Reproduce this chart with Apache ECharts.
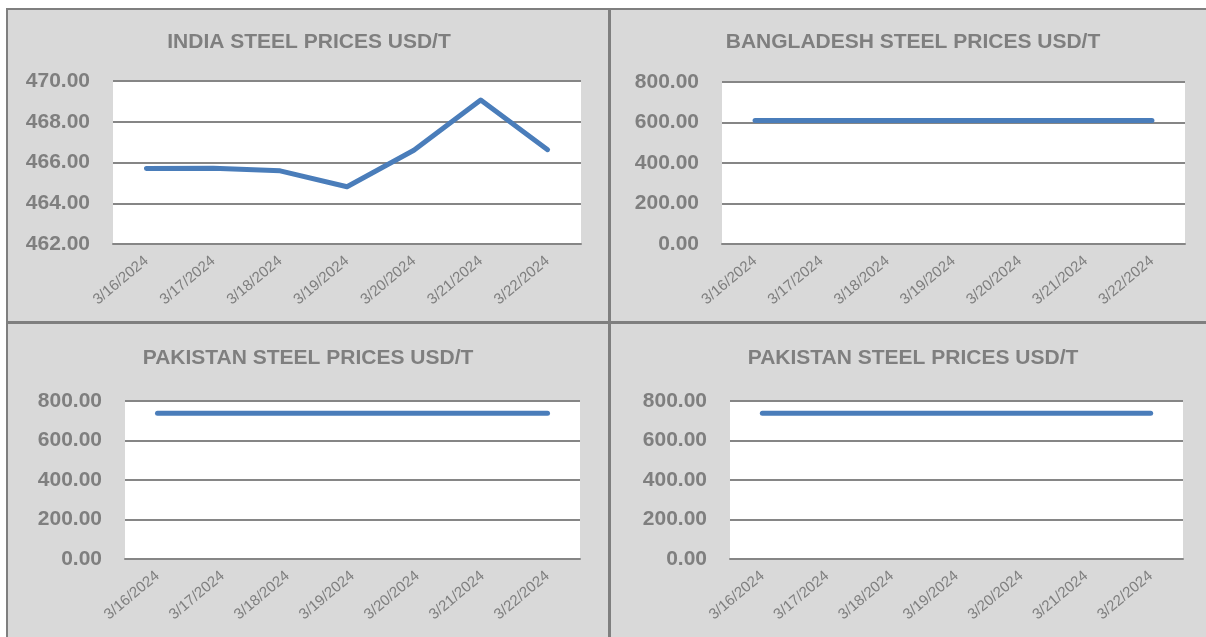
<!DOCTYPE html>
<html>
<head>
<meta charset="utf-8">
<script src="https://cdn.jsdelivr.net/npm/echarts@6/dist/echarts.min.js"></script>
<style>
html,body{margin:0;padding:0;background:#fff;}
#chart{width:1206px;height:637px;}
</style>
</head>
<body>
<div id="chart"></div>
<script>
const dates = ["3/16/2024","3/17/2024","3/18/2024","3/19/2024","3/20/2024","3/21/2024","3/22/2024"];
const titles = ["INDIA STEEL PRICES USD/T","BANGLADESH STEEL PRICES USD/T","PAKISTAN STEEL PRICES USD/T","PAKISTAN STEEL PRICES USD/T"];
const india = [465.71, 465.72, 465.59, 464.81, 466.60, 469.07, 466.63];
const bangladesh = [610, 610, 610, 610, 610, 610, 610];
const pakistan1 = [738, 738, 738, 738, 738, 738, 738];
const pakistan2 = [738, 738, 738, 738, 738, 738, 738];
const yRanges = [[462, 470, 2], [0, 800, 200], [0, 800, 200], [0, 800, 200]];
const seriesData = [india, bangladesh, pakistan1, pakistan2];

const grids = [
  {left: 113, top: 81, width: 468, height: 163},
  {left: 722, top: 82, width: 463, height: 162},
  {left: 125, top: 401, width: 455, height: 158},
  {left: 730, top: 401, width: 453, height: 158}
];
const titlePos = [[309, 32], [913, 32], [308, 348], [913, 348]];

const gray = '#7f7f7f';
const gridColor = '#868686';

const option = {
  backgroundColor: '#d9d9d9',
  animation: false,
  title: titles.map((t, i) => ({
    text: t,
    left: titlePos[i][0],
    top: titlePos[i][1],
    textAlign: 'center',
    padding: 0,
    textStyle: {fontFamily: 'Liberation Sans, Arial, sans-serif', fontSize: 21, fontWeight: 'bold', color: gray}
  })),
  grid: grids.map(g => Object.assign({show: true, backgroundColor: '#ffffff', borderWidth: 0, containLabel: false}, g)),
  xAxis: grids.map((g, i) => ({
    type: 'category',
    gridIndex: i,
    data: dates,
    boundaryGap: true,
    axisLine: {show: true, lineStyle: {color: gridColor, width: 2}},
    axisTick: {show: false},
    axisLabel: {rotate: 40, margin: 15, fontSize: 15, color: gray, fontFamily: 'Liberation Sans, Arial, sans-serif', interval: 0}
  })),
  yAxis: grids.map((g, i) => ({
    type: 'value',
    gridIndex: i,
    min: yRanges[i][0],
    max: yRanges[i][1],
    interval: yRanges[i][2],
    axisLine: {show: false},
    axisTick: {show: false},
    splitLine: {show: true, lineStyle: {color: gridColor, width: 2}},
    axisLabel: {margin: 23, fontSize: 21, fontWeight: 'bold', color: gray, fontFamily: 'Liberation Sans, Arial, sans-serif',
      formatter: v => v.toFixed(2)}
  })),
  series: seriesData.map((d, i) => ({
    type: 'line',
    xAxisIndex: i,
    yAxisIndex: i,
    data: d,
    symbol: 'none',
    lineStyle: {color: '#4a7dba', width: 5, cap: 'round', join: 'round'},
    z: 5
  })),
  graphic: [
    {type: 'rect', shape: {x: 0, y: 0, width: 1206, height: 8}, style: {fill: '#ffffff'}, z: 50},
    {type: 'rect', shape: {x: 0, y: 0, width: 6, height: 637}, style: {fill: '#ffffff'}, z: 50},
    {type: 'rect', shape: {x: 6, y: 8, width: 1200, height: 2}, style: {fill: gray}, z: 51},
    {type: 'rect', shape: {x: 6, y: 8, width: 2, height: 629}, style: {fill: gray}, z: 51},
    {type: 'rect', shape: {x: 608, y: 8, width: 3, height: 629}, style: {fill: gray}, z: 51},
    {type: 'rect', shape: {x: 6, y: 321, width: 1200, height: 3}, style: {fill: gray}, z: 51}
  ]
};

const chart = echarts.init(document.getElementById('chart'), null, {renderer: 'canvas', width: 1206, height: 637});
chart.setOption(option);
</script>
</body>
</html>
